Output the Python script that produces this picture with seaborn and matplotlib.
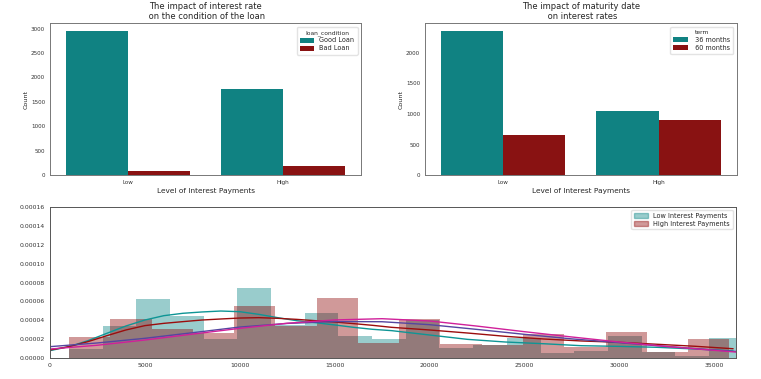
import matplotlib
matplotlib.use("Agg")
import matplotlib.pyplot as plt
import matplotlib.patches as mpatches
import numpy as np
import pandas as pd
import seaborn as sns

# ---- top-left: loan condition by interest level
levels = ["Low", "High"]
loan_conditions = ["Good Loan", "Bad Loan"]
loan_counts = {"Good Loan": [2959, 1767], "Bad Loan": [82, 185]}

# ---- top-right: term by interest level
terms = [" 36 months", " 60 months"]
term_counts = {" 36 months": [2367, 1047], " 60 months": [658, 904]}

# ---- bottom: density histograms (bin edges + heights, in 1e-5 units)
low_edges = [1000, 2775, 4550, 6325, 8100, 9875, 11650, 13425, 15200, 16975,
             18750, 20525, 22300, 24075, 25850, 27625, 29400, 31175, 32950,
             34725, 36500]
low_dens = [0.98, 3.44, 6.29, 4.50, 2.04, 7.39, 3.55, 4.81, 2.39, 2.04,
            4.00, 1.05, 1.40, 2.18, 0.56, 0.77, 2.39, 0.63, 0.28, 2.15]
high_edges = [1000, 3175, 5350, 7525, 9700, 11875, 14050, 16225, 18400,
              20575, 22750, 24925, 27100, 29275, 31450, 33625, 35800]
high_dens = [2.28, 4.15, 3.06, 2.64, 5.52, 3.44, 6.33, 1.65, 4.15, 1.54,
             1.45, 2.53, 1.23, 2.74, 0.70, 2.04]

kde_x = [0, 1000, 2000, 3000, 4000, 5000, 6000, 7000, 8000, 9000, 10000,
         11000, 12000, 13000, 14000, 15000, 16000, 17000, 18000, 20000,
         22000, 24000, 26000, 28000, 30000, 32000, 34000, 36000]
kde_low = [0.81, 1.23, 1.86, 2.64, 3.41, 4.04, 4.50, 4.75, 4.89, 4.99, 4.92,
           4.64, 4.29, 3.97, 3.76, 3.52, 3.27, 3.06, 2.92, 2.46, 2.00, 1.72,
           1.54, 1.33, 1.26, 1.16, 0.98, 0.77]
kde_high = [0.88, 1.23, 1.76, 2.39, 2.99, 3.45, 3.69, 3.87, 4.04, 4.15, 4.25,
            4.29, 4.22, 4.11, 3.97, 3.83, 3.66, 3.48, 3.27, 2.99, 2.67, 2.32,
            2.04, 1.83, 1.69, 1.48, 1.27, 1.01]

fit_x = [0, 2500, 5000, 7500, 10000, 12500, 15000, 17500, 20000, 22500,
         25000, 27500, 30000, 32500, 35000, 36150]
fit_purple = [1.23, 1.62, 2.11, 2.70, 3.30, 3.68, 3.88, 3.86, 3.55, 3.05,
              2.53, 2.05, 1.65, 1.25, 0.88, 0.72]
fit_magenta = [0.98, 1.38, 1.93, 2.55, 3.16, 3.70, 4.05, 4.18, 3.94, 3.40,
               2.81, 2.25, 1.72, 1.25, 0.84, 0.66]

TEAL = "#108282"
DARKRED = "#891212"
SPINE = "#777777"

sns.set_style("white")
plt.rcParams.update({"font.family": "DejaVu Sans", "text.color": "#262626",
                     "axes.labelcolor": "#262626"})


def count_frame(counts, key):
    rows = []
    for grp, vals in counts.items():
        for lvl, v in zip(levels, vals):
            rows.append({"level": lvl, key: grp, "count": v})
    return pd.DataFrame(rows)


def style_top(ax, title, legend_title):
    ax.set_title(title, fontsize=6.0, pad=3)
    ax.set_xlabel("Level of Interest Payments", fontsize=5.3, labelpad=2)
    ax.set_ylabel("Count", fontsize=4.6, labelpad=2)
    ax.tick_params(labelsize=4.1, length=2, width=0.5, pad=1.5, colors="#333333")
    for s in ax.spines.values():
        s.set_color(SPINE)
        s.set_linewidth(0.7)
    ax.legend(title=legend_title, loc="upper right", fontsize=4.7,
              title_fontsize=4.3, frameon=True, edgecolor="#dddddd",
              handlelength=2.2, handleheight=0.8, borderpad=0.5,
              labelspacing=0.3)


fig = plt.figure(figsize=(7.61, 3.79), dpi=100)
ax1 = fig.add_axes([0.0657, 0.538, 0.4087, 0.4005])
ax2 = fig.add_axes([0.5585, 0.538, 0.4096, 0.4005])
ax3 = fig.add_axes([0.0657, 0.0546, 0.9014, 0.40])

sns.barplot(data=count_frame(loan_counts, "loan_condition"), x="level", y="count",
            hue="loan_condition", hue_order=loan_conditions,
            palette=[TEAL, DARKRED], saturation=1, linewidth=0, ax=ax1)
style_top(ax1, "The impact of interest rate\n on the condition of the loan",
          "loan_condition")

sns.barplot(data=count_frame(term_counts, "term"), x="level", y="count",
            hue="term", hue_order=terms, palette=[TEAL, DARKRED],
            saturation=1, linewidth=0, ax=ax2)
style_top(ax2, "The impact of maturity date\n on interest rates", "term")

low_mid = [(a + b) / 2 for a, b in zip(low_edges[:-1], low_edges[1:])]
high_mid = [(a + b) / 2 for a, b in zip(high_edges[:-1], high_edges[1:])]
sns.histplot(x=low_mid, weights=np.array(low_dens) * 1e-5, bins=low_edges,
             color="teal", alpha=0.4, linewidth=0, ax=ax3)
sns.histplot(x=high_mid, weights=np.array(high_dens) * 1e-5, bins=high_edges,
             color="darkred", alpha=0.4, linewidth=0, ax=ax3)
sns.lineplot(x=kde_x, y=np.array(kde_low) * 1e-5, color="#0e9595", lw=1, ax=ax3)
sns.lineplot(x=kde_x, y=np.array(kde_high) * 1e-5, color="#9b0d0d", lw=1, ax=ax3)
sns.lineplot(x=fit_x, y=np.array(fit_purple) * 1e-5, color="#5546a0", lw=1, ax=ax3)
sns.lineplot(x=fit_x, y=np.array(fit_magenta) * 1e-5, color="#d0209a", lw=1, ax=ax3)

ax3.set_xlim(0, 36150)
ax3.set_ylim(0, 0.00016)
ax3.set_yticks(np.arange(0, 0.000161, 0.00002))
ax3.yaxis.set_major_formatter(matplotlib.ticker.FormatStrFormatter("%.5f"))
ax3.set_xticks(range(0, 35001, 5000))
ax3.set_xlabel("")
ax3.set_ylabel("")
ax3.tick_params(labelsize=4.4, length=2, width=0.5, pad=1.5, colors="#333333")
for s in ax3.spines.values():
    s.set_color("#555555")
    s.set_linewidth(0.7)
handles = [mpatches.Patch(color="teal", alpha=0.4, label="Low Interest Payments"),
           mpatches.Patch(color="darkred", alpha=0.4, label="High Interest Payments")]
ax3.legend(handles=handles, loc="upper right", fontsize=4.7, frameon=True,
           edgecolor="#dddddd", handlelength=2.2, handleheight=0.8,
           labelspacing=0.3)

fig.savefig("out.png", dpi=100, facecolor="white")
